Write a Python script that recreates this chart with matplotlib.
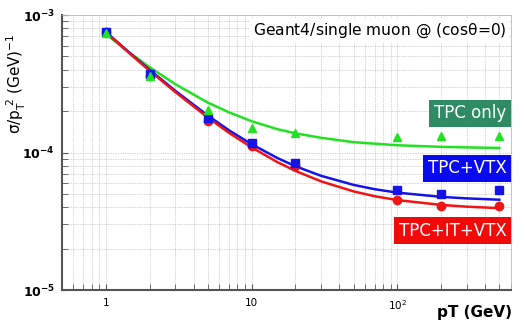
import matplotlib.pyplot as plt
from matplotlib.ticker import FixedLocator, FixedFormatter, NullFormatter

# measured points
pt = [1, 2, 5, 10, 20, 100, 200, 500]
tpc_only = [7.4e-4, 3.6e-4, 2.03e-4, 1.5e-4, 1.38e-4, 1.3e-4, 1.31e-4, 1.33e-4]
tpc_vtx = [7.5e-4, 3.7e-4, 1.77e-4, 1.18e-4, 8.45e-5, 5.3e-5, 5.0e-5, 5.3e-5]
tpc_it_vtx = [7.5e-4, 3.6e-4, 1.7e-4, 1.12e-4, 8.0e-5, 4.55e-5, 4.07e-5, 4.07e-5]

# fitted curves
pt_fit = [1, 1.5, 2, 3, 5, 7, 10, 15, 20, 30, 50, 70, 100, 200, 300, 500]
fit_tpc_only = [7.27e-4, 5.2e-4, 4.17e-4, 3.14e-4, 2.31e-4, 1.96e-4, 1.69e-4, 1.48e-4,
                1.38e-4, 1.28e-4, 1.19e-4, 1.16e-4, 1.13e-4, 1.10e-4, 1.09e-4, 1.08e-4]
fit_tpc_vtx = [7.54e-4, 5.17e-4, 3.99e-4, 2.81e-4, 1.86e-4, 1.45e-4, 1.15e-4, 9.13e-5,
               7.95e-5, 6.77e-5, 5.82e-5, 5.41e-5, 5.11e-5, 4.76e-5, 4.64e-5, 4.54e-5]
fit_tpc_it_vtx = [7.48e-4, 5.11e-4, 3.93e-4, 2.75e-4, 1.80e-4, 1.39e-4, 1.09e-4, 8.53e-5,
                  7.35e-5, 6.17e-5, 5.22e-5, 4.81e-5, 4.51e-5, 4.16e-5, 4.04e-5, 3.94e-5]

x_ticks = [1, 10, 100]
x_ticklabels = ['1', '10', r'$\mathregular{10^2}$']

green = '#22e022'
blue = '#1414e6'
red = '#f01414'

fig = plt.figure(figsize=(5.25, 3.27), dpi=100)
ax = fig.add_axes([0.118, 0.113, 0.855, 0.841])

ax.plot(pt_fit, fit_tpc_only, color=green, lw=1.8)
ax.plot(pt_fit, fit_tpc_vtx, color=blue, lw=1.8)
ax.plot(pt_fit, fit_tpc_it_vtx, color=red, lw=1.8)
ax.plot(pt, tpc_it_vtx, 'o', color=red, ms=6)
ax.plot(pt, tpc_vtx, 's', color=blue, ms=6)
ax.plot(pt, tpc_only, '^', color=green, ms=6)

ax.set_xscale('log')
ax.set_yscale('log')
ax.set_xlim(0.5, 600)
ax.set_ylim(1e-5, 1e-3)
ax.xaxis.set_major_locator(FixedLocator(x_ticks))
ax.xaxis.set_major_formatter(FixedFormatter(x_ticklabels))
ax.xaxis.set_minor_formatter(NullFormatter())

ax.grid(True, which='both', linestyle=(0, (1, 1.5)), color='#aaaaaa', lw=0.5)
ax.set_axisbelow(True)
ax.tick_params(which='both', direction='in', length=4, color='#555555')
ax.tick_params(axis='x', labelsize=7.5, pad=6)
ax.tick_params(axis='y', labelsize=9, pad=5)
for lab in ax.get_yticklabels():
    lab.set_fontweight('bold')
for s in ['left', 'bottom']:
    ax.spines[s].set_color('#555555')
    ax.spines[s].set_linewidth(1.5)
for s in ['top', 'right']:
    ax.spines[s].set_color('#bbbbbb')
    ax.spines[s].set_linewidth(0.6)

ax.text(0.99, 0.942, r'Geant4/single muon @ (cos$\mathregular{\theta}$=0)', transform=ax.transAxes,
        ha='right', va='center', fontsize=11.2,
        bbox=dict(facecolor='white', edgecolor='none', pad=2))
ax.text(0.99, 0.642, 'TPC only', transform=ax.transAxes, ha='right', va='center',
        fontsize=12, color='white', bbox=dict(facecolor='#2e8b64', edgecolor='none', pad=3.5))
ax.text(0.99, 0.442, 'TPC+VTX', transform=ax.transAxes, ha='right', va='center',
        fontsize=12, color='white', bbox=dict(facecolor='#0a0aee', edgecolor='none', pad=3.5))
ax.text(0.99, 0.216, 'TPC+IT+VTX', transform=ax.transAxes, ha='right', va='center',
        fontsize=12, color='white', bbox=dict(facecolor='#f00a0a', edgecolor='none', pad=3.5))

fig.text(16 / 525, 1 - 84 / 327, r'$\mathregular{\sigma/p_T^{\ 2}\ (GeV)^{-1}}$', rotation=90,
         ha='center', va='center', fontsize=11)
fig.text(512 / 525, 1 - 313 / 327, 'pT (GeV)', ha='right', va='center',
         fontsize=11, fontweight='bold')

fig.savefig('out.png', dpi=100)
